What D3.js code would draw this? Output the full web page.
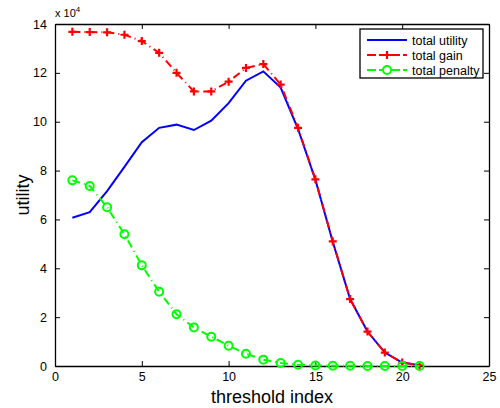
<!DOCTYPE html>
<html lang="en">
<head>
<meta charset="UTF-8">
<script src="https://cdnjs.cloudflare.com/ajax/libs/d3/7.8.5/d3.min.js"></script>
<style>
  body { margin: 0; background: #fff; }
  text { font-family: "Liberation Sans", Arial, sans-serif; fill: #000; }
</style>
</head>
<body>
<div id="content"></div>
<script>
  // threshold index
  const thresholds = [1,2,3,4,5,6,7,8,9,10,11,12,13,14,15,16,17,18,19,20,21];
  // values in units of 10^4
  const totalUtility = [6.07,6.30,7.16,8.15,9.16,9.75,9.88,9.66,10.04,10.76,11.68,12.06,11.40,9.70,7.62,5.09,2.74,1.41,0.55,0.14,0.03];
  const totalGain = [13.68,13.67,13.66,13.56,13.30,12.82,12.00,11.24,11.24,11.64,12.20,12.36,11.52,9.75,7.64,5.10,2.74,1.41,0.55,0.14,0.03];
  const totalPenalty = [7.60,7.37,6.50,5.39,4.12,3.04,2.12,1.58,1.20,0.83,0.50,0.26,0.12,0.05,0.02,0.01,0.01,0.0,0.0,0.0,0.0];
  const xTicks = [0,5,10,15,20,25];
  const yTicks = [0,2,4,6,8,10,12,14];

  const width = 500, height = 408;
  const padL = 55, padR = 489, padT = 24, padB = 366;

  const x = d3.scaleLinear().domain([0, 25]).range([padL, padR]);
  const y = d3.scaleLinear().domain([0, 14]).range([padB, padT]);

  const svg = d3.select('#content').append('svg')
    .attr('width', width).attr('height', height);
  svg.append('rect').attr('width', width).attr('height', height).attr('fill', '#fff');

  //-Axes, MATLAB style: ticks inside, box on
  svg.append('g')
    .attr('transform', `translate(0,${padB})`)
    .call(d3.axisBottom(x).tickValues(xTicks).tickSizeInner(-5).tickSizeOuter(0).tickPadding(6))
    .call(g => g.selectAll('text').style('font-size', '12.5px'));
  svg.append('g')
    .attr('transform', `translate(0,${padT})`)
    .call(d3.axisTop(x).tickValues(xTicks).tickSizeInner(-5).tickSizeOuter(0).tickFormat(''));
  svg.append('g')
    .attr('transform', `translate(${padL},0)`)
    .call(d3.axisLeft(y).tickValues(yTicks).tickSizeInner(-5).tickSizeOuter(0).tickPadding(8))
    .call(g => g.selectAll('text').style('font-size', '12.5px'));
  svg.append('g')
    .attr('transform', `translate(${padR},0)`)
    .call(d3.axisRight(y).tickValues(yTicks).tickSizeInner(-5).tickSizeOuter(0).tickFormat(''));
  svg.selectAll('.domain').attr('stroke', '#000').attr('stroke-width', 1.3);
  svg.selectAll('.tick line').attr('stroke', '#000');

  //-Exponent label
  const ex = svg.append('text').attr('x', padL).attr('y', 17).style('font-size', '11px');
  ex.append('tspan').text('x 10');
  ex.append('tspan').attr('dy', -5).style('font-size', '8px').text('4');

  //-Axis labels
  svg.append('text')
    .attr('x', 272).attr('y', 403)
    .attr('text-anchor', 'middle').style('font-size', '18px')
    .text('threshold index');
  svg.append('text')
    .attr('transform', `translate(29,${(padT + padB) / 2}) rotate(-90)`)
    .attr('text-anchor', 'middle').style('font-size', '18px')
    .text('utility');

  const line = d3.line().x(d => x(d[0])).y(d => y(d[1]));
  const zip = vals => thresholds.map((t, i) => [t, vals[i]]);

  const plot = svg.append('g');
  //-Utility
  plot.append('path').datum(zip(totalUtility))
    .attr('d', line).attr('fill', 'none')
    .attr('stroke', '#0000ff').attr('stroke-width', 2);
  //-Gain
  plot.append('path').datum(zip(totalGain))
    .attr('d', line).attr('fill', 'none')
    .attr('stroke', '#ff0000').attr('stroke-width', 2)
    .attr('stroke-dasharray', '8,4,1,4');
  plot.selectAll('.plus').data(zip(totalGain)).enter()
    .append('path').attr('class', 'plus')
    .attr('transform', d => `translate(${x(d[0])},${y(d[1])})`)
    .attr('d', 'M-4,0H4M0,-4V4')
    .attr('stroke', '#ff0000').attr('stroke-width', 2.2);
  //-Penalty
  plot.append('path').datum(zip(totalPenalty))
    .attr('d', line).attr('fill', 'none')
    .attr('stroke', '#00ff00').attr('stroke-width', 2)
    .attr('stroke-dasharray', '8,4,1,4');
  plot.selectAll('.circ').data(zip(totalPenalty)).enter()
    .append('circle').attr('class', 'circ')
    .attr('cx', d => x(d[0])).attr('cy', d => y(d[1])).attr('r', 4)
    .attr('fill', 'none').attr('stroke', '#00ff00').attr('stroke-width', 2);

  //-Legend
  const legend = svg.append('g').attr('transform', 'translate(360,29)');
  legend.append('rect').attr('width', 123).attr('height', 49)
    .attr('fill', '#fff').attr('stroke', '#000').attr('stroke-width', 1.3);
  const items = [
    { name: 'total utility', color: '#0000ff', dash: null, marker: null },
    { name: 'total gain', color: '#ff0000', dash: '8,4,1,4', marker: 'plus' },
    { name: 'total penalty', color: '#00ff00', dash: '8,4,1,4', marker: 'circle' }
  ];
  items.forEach((it, i) => {
    const row = legend.append('g').attr('transform', `translate(0,${11 + i * 15})`);
    row.append('line').attr('x1', 7).attr('x2', 47).attr('y1', 0).attr('y2', 0)
      .attr('stroke', it.color).attr('stroke-width', 2)
      .attr('stroke-dasharray', it.dash ? '9,3' : null);
    if (it.marker === 'plus') {
      row.append('path').attr('transform', 'translate(27,0)').attr('d', 'M-4,0H4M0,-4V4')
        .attr('stroke', it.color).attr('stroke-width', 2.2);
    } else if (it.marker === 'circle') {
      row.append('circle').attr('cx', 27).attr('cy', 0).attr('r', 4)
        .attr('fill', '#fff').attr('stroke', it.color).attr('stroke-width', 2);
    }
    row.append('text').attr('x', 52).attr('y', 4.5).style('font-size', '12.5px').text(it.name);
  });
</script>
</body>
</html>
